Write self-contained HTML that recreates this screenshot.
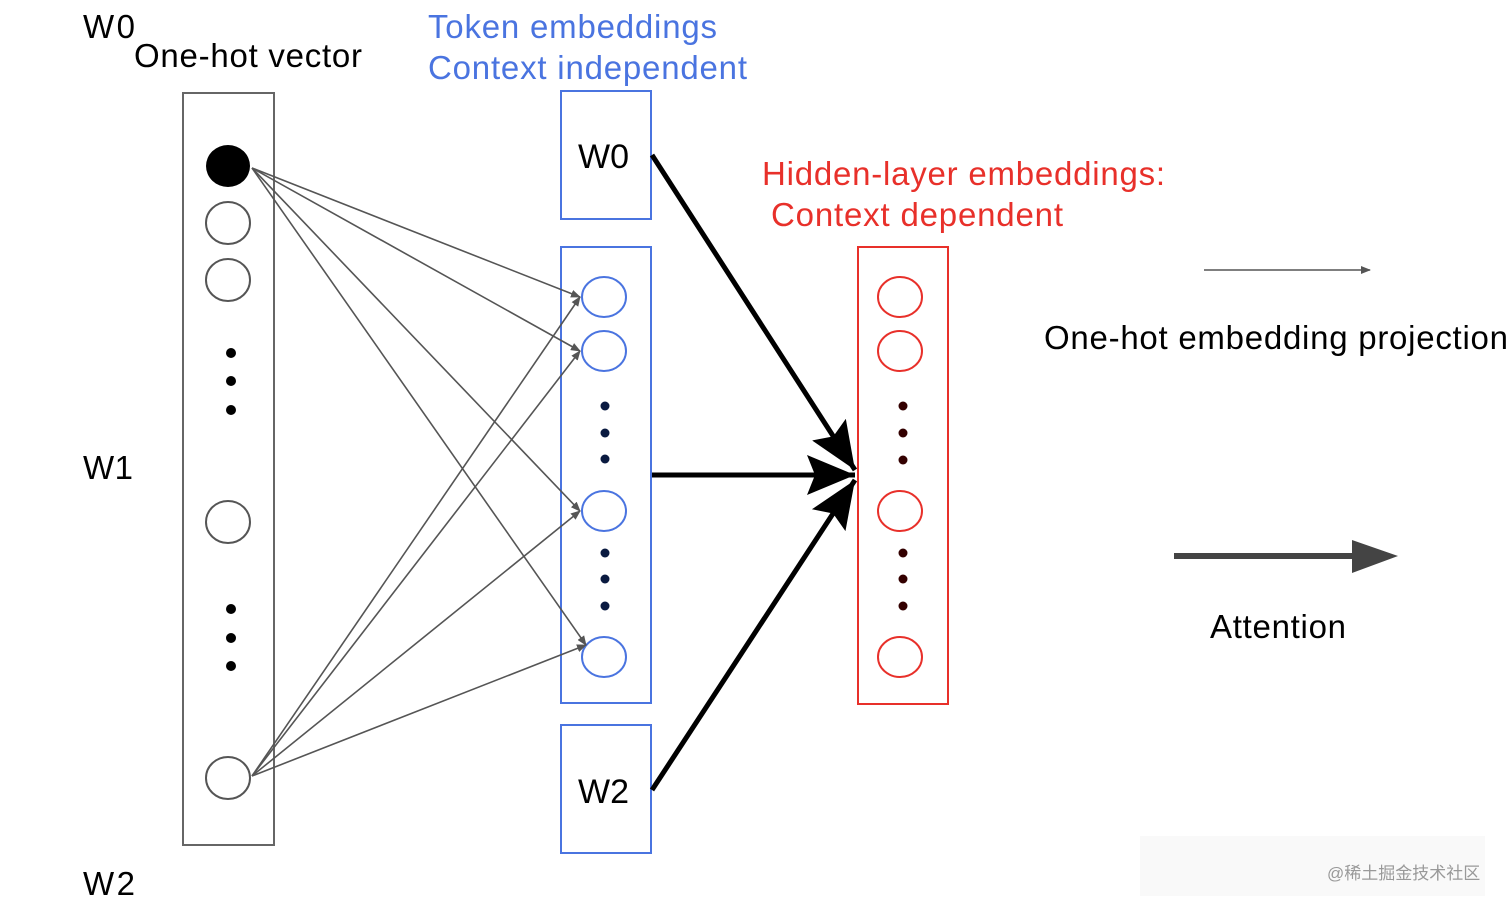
<!DOCTYPE html>
<html><head><meta charset="utf-8"><style>
html,body{margin:0;padding:0;background:#fff;}
svg{display:block;}
text{font-family:"Liberation Sans","Noto Sans CJK SC",sans-serif;}
</style></head><body>
<svg width="1512" height="907" viewBox="0 0 1512 907" xmlns="http://www.w3.org/2000/svg">
<defs>
<marker id="sa" markerWidth="10" markerHeight="8" refX="9" refY="4" orient="auto" markerUnits="userSpaceOnUse"><path d="M0,0 L10,4 L0,8 z" fill="#555"/></marker>
<marker id="ba" markerWidth="50" markerHeight="40" refX="48" refY="20" orient="auto" markerUnits="userSpaceOnUse"><path d="M0,0 L48,20 L0,40 L8,20 z" fill="#000"/></marker>
</defs>
<g font-size="33" fill="#000" lengthAdjust="spacingAndGlyphs">
<text x="83" y="38" textLength="52">W0</text>
<text x="134" y="67" textLength="228">One-hot vector</text>
<text x="83" y="479" textLength="50">W1</text>
<text x="83" y="895" textLength="52">W2</text>
</g>
<g font-size="33" fill="#4a74e0">
<text x="428" y="38" textLength="289">Token embeddings</text>
<text x="428" y="79" textLength="319">Context independent</text>
</g>
<g font-size="33" fill="#e8302a">
<text x="762" y="185" textLength="403">Hidden-layer embeddings:</text>
<text x="771" y="226" textLength="292">Context dependent</text>
</g>
<text x="1044" y="349" font-size="33" textLength="464">One-hot embedding projection</text>
<text x="1210" y="638" font-size="33" textLength="136">Attention</text>

<rect x="183" y="93" width="91" height="752" fill="none" stroke="#666" stroke-width="2"/>
<ellipse cx="228" cy="166" rx="22" ry="21" fill="#000"/>
<g fill="none" stroke="#555" stroke-width="2">
<ellipse cx="228" cy="223" rx="22" ry="21"/>
<ellipse cx="228" cy="280" rx="22" ry="21"/>
<ellipse cx="228" cy="522" rx="22" ry="21"/>
<ellipse cx="228" cy="778" rx="22" ry="21"/>
</g>
<g fill="#000">
<circle cx="231" cy="353" r="5"/><circle cx="231" cy="381" r="5"/><circle cx="231" cy="410" r="5"/>
<circle cx="231" cy="609" r="5"/><circle cx="231" cy="638" r="5"/><circle cx="231" cy="666" r="5"/>
</g>

<g fill="none" stroke="#4a74e0" stroke-width="2">
<rect x="561" y="91" width="90" height="128"/>
<rect x="561" y="247" width="90" height="456"/>
<rect x="561" y="725" width="90" height="128"/>
<ellipse cx="604" cy="297" rx="22" ry="20"/>
<ellipse cx="604" cy="351" rx="22" ry="20"/>
<ellipse cx="604" cy="511" rx="22" ry="20"/>
<ellipse cx="604" cy="657" rx="22" ry="20"/>
</g>
<g fill="#0a1a40">
<circle cx="605" cy="406" r="4.5"/><circle cx="605" cy="433" r="4.5"/><circle cx="605" cy="459" r="4.5"/>
<circle cx="605" cy="553" r="4.5"/><circle cx="605" cy="579" r="4.5"/><circle cx="605" cy="606" r="4.5"/>
</g>
<text x="578" y="168" font-size="34">W0</text>
<text x="578" y="803" font-size="34">W2</text>

<g fill="none" stroke="#e8302a" stroke-width="2">
<rect x="858" y="247" width="90" height="457"/>
<ellipse cx="900" cy="297" rx="22" ry="20"/>
<ellipse cx="900" cy="351" rx="22" ry="20"/>
<ellipse cx="900" cy="511" rx="22" ry="20"/>
<ellipse cx="900" cy="657" rx="22" ry="20"/>
</g>
<g fill="#300">
<circle cx="903" cy="406" r="4.5"/><circle cx="903" cy="433" r="4.5"/><circle cx="903" cy="460" r="4.5"/>
<circle cx="903" cy="553" r="4.5"/><circle cx="903" cy="579" r="4.5"/><circle cx="903" cy="606" r="4.5"/>
</g>

<g stroke="#555" stroke-width="1.6" marker-end="url(#sa)">
<line x1="252" y1="168" x2="580" y2="297"/>
<line x1="252" y1="168" x2="580" y2="351"/>
<line x1="252" y1="168" x2="580" y2="511"/>
<line x1="252" y1="168" x2="586" y2="645"/>
<line x1="252" y1="776" x2="580" y2="297"/>
<line x1="252" y1="776" x2="580" y2="351"/>
<line x1="252" y1="776" x2="580" y2="511"/>
<line x1="252" y1="776" x2="586" y2="645"/>
</g>

<g stroke="#000" stroke-width="5" marker-end="url(#ba)">
<line x1="652" y1="155" x2="855" y2="470"/>
<line x1="652" y1="475" x2="855" y2="475"/>
<line x1="652" y1="790" x2="855" y2="480"/>
</g>

<line x1="1204" y1="270" x2="1370" y2="270" stroke="#555" stroke-width="1.5" marker-end="url(#sa)"/>
<line x1="1174" y1="556" x2="1360" y2="556" stroke="#444" stroke-width="6"/>
<path d="M1352,540 L1398,556 L1352,573 z" fill="#444"/>

<rect x="1140" y="836" width="345" height="60" fill="#f6f6f6" opacity="0.7"/>
<text x="1327" y="879" font-size="17" fill="#999">@稀土掘金技术社区</text>
</svg>
</body></html>
